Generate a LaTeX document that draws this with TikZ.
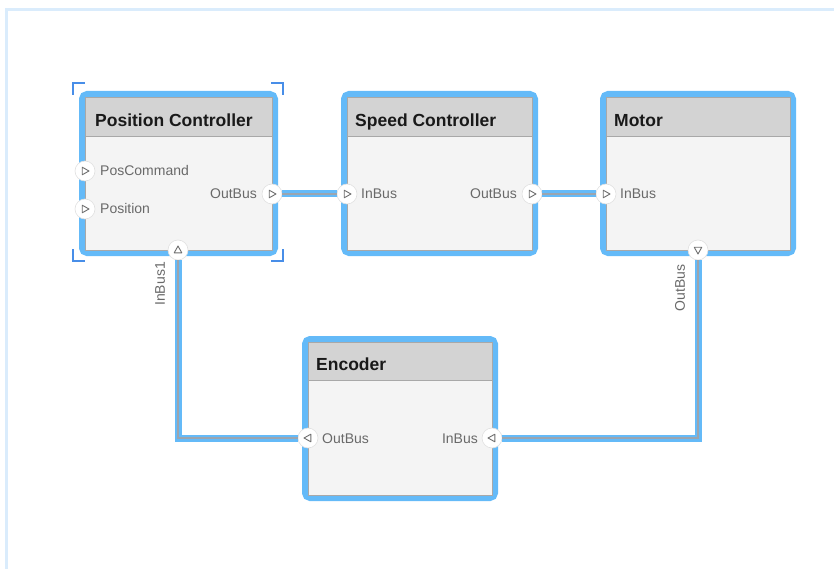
\documentclass[tikz,border=0pt]{standalone}
\usepackage{fontspec}
\setmainfont{Liberation Sans}
\definecolor{halo}{RGB}{100,186,248}
\definecolor{brk}{RGB}{72,142,232}
\definecolor{framec}{RGB}{218,236,252}
\definecolor{hdr}{RGB}{211,211,211}
\definecolor{bodyc}{RGB}{244,244,244}
\definecolor{edge}{RGB}{168,168,168}
\definecolor{lbl}{RGB}{105,105,105}
\definecolor{wire}{RGB}{155,165,175}
\definecolor{tric}{RGB}{110,110,110}
\begin{document}
\begin{tikzpicture}[x=1pt,y=-1pt,
  halobox/.style={draw=halo, line width=6pt, rounded corners=5pt},
  blockbox/.style={draw=edge, fill=bodyc, line width=0.8pt, rectangle, inner sep=0pt, anchor=north west},
  hdrbox/.style={draw=edge, fill=hdr, line width=0.8pt},
  title/.style={font=\fontsize{17.5}{20}\selectfont\bfseries, text=black!90, anchor=base west, inner sep=0pt},
  plabel/.style={font=\fontsize{14}{16}\selectfont, text=lbl, inner sep=0pt},
  port/.style={circle, fill=white, draw=black!12, line width=0.6pt, minimum size=20pt, inner sep=0pt},
  bus/.style={draw=halo, double=wire, double distance=1.6pt, line width=2.7pt},
  brkline/.style={draw=brk, line width=2.5pt},
  tri/.pic={\draw[tric, line width=0.9pt, line join=round] (-2.8,-3.8) -- (-2.8,3.8) -- (4,0) -- cycle;}
]
\useasboundingbox (0,0) rectangle (834,569);
\clip (0,0) rectangle (834,569);
% outer canvas frame
\draw[framec, line width=2.5pt] (6.5,600) -- (6.5,9.5) -- (900,9.5);

% ---------- Position Controller ----------
\draw[halobox] (82,94) rectangle (275,253);
\node[blockbox, minimum width=187pt, minimum height=153pt] (pc) at (85,97) {};
\path[hdrbox] (85,97) rectangle (272,136);
\node[title] (pct) at (95,127) {Position Controller};
% selection brackets
\draw[brkline] (73,95) -- (73,83) -- (85,83);
\draw[brkline] (271,83) -- (283,83) -- (283,95);
\draw[brkline] (73,249) -- (73,261) -- (85,261);
\draw[brkline] (271,261) -- (283,261) -- (283,249);

% ---------- Speed Controller ----------
\draw[halobox] (344,94) rectangle (535,253);
\node[blockbox, minimum width=185pt, minimum height=153pt] (sc) at (347,97) {};
\path[hdrbox] (347,97) rectangle (532,136);
\node[title] (sct) at (355,127) {Speed Controller};

% ---------- Motor ----------
\draw[halobox] (603,94) rectangle (793,253);
\node[blockbox, minimum width=184pt, minimum height=153pt] (mo) at (606,97) {};
\path[hdrbox] (606,97) rectangle (790,136);
\node[title] (mot) at (614,127) {Motor};

% ---------- Encoder ----------
\draw[halobox] (305,339) rectangle (495,498);
\node[blockbox, minimum width=184pt, minimum height=153pt] (en) at (308,342) {};
\path[hdrbox] (308,342) rectangle (492,380);
\node[title] (ent) at (316,370) {Encoder};

% ---------- ports ----------
\node[port] (pcpos) at (85,171) {};
\node[port] (pcposn) at (85,209) {};
\node[port] (pcout) at (272,194) {};
\node[port] (pcin) at (178,250) {};
\node[port] (scin) at (347,194) {};
\node[port] (scout) at (532,194) {};
\node[port] (moin) at (606,194) {};
\node[port] (moout) at (698,250) {};
\node[port] (enout) at (308,438) {};
\node[port] (enin) at (492,438) {};

% ---------- connectors ----------
\draw[bus] (pcout) -- (scin);
\draw[bus] (scout) -- (moin);
\draw[bus] (moout) |- (enin);
\draw[bus] (enout) -| (pcin);

% ---------- port glyphs ----------
\pic at (pcpos) {tri};
\pic at (pcposn) {tri};
\pic at (pcout) {tri};
\pic[rotate=90] at (pcin) {tri};
\pic at (scin) {tri};
\pic at (scout) {tri};
\pic at (moin) {tri};
\pic[rotate=-90] at (moout) {tri};
\pic[rotate=180] at (enout) {tri};
\pic[rotate=180] at (enin) {tri};

% ---------- port labels ----------
\node[plabel, anchor=base west] (l1) at (100,176) {PosCommand};
\node[plabel, anchor=base west] (l2) at (100,214) {Position};
\node[plabel, anchor=base east] (l3) at (257,199) {OutBus};
\node[plabel, anchor=base west] (l4) at (361,199) {InBus};
\node[plabel, anchor=base east] (l5) at (517,199) {OutBus};
\node[plabel, anchor=base west] (l6) at (620,199) {InBus};
\node[plabel, anchor=base west] (l7) at (322,443) {OutBus};
\node[plabel, anchor=base east] (l8) at (478,443) {InBus};
\node[plabel, rotate=90] (l9) at (160,284) {InBus1};
\node[plabel, rotate=90] (l10) at (680,288) {OutBus};
\end{tikzpicture}
\end{document}
